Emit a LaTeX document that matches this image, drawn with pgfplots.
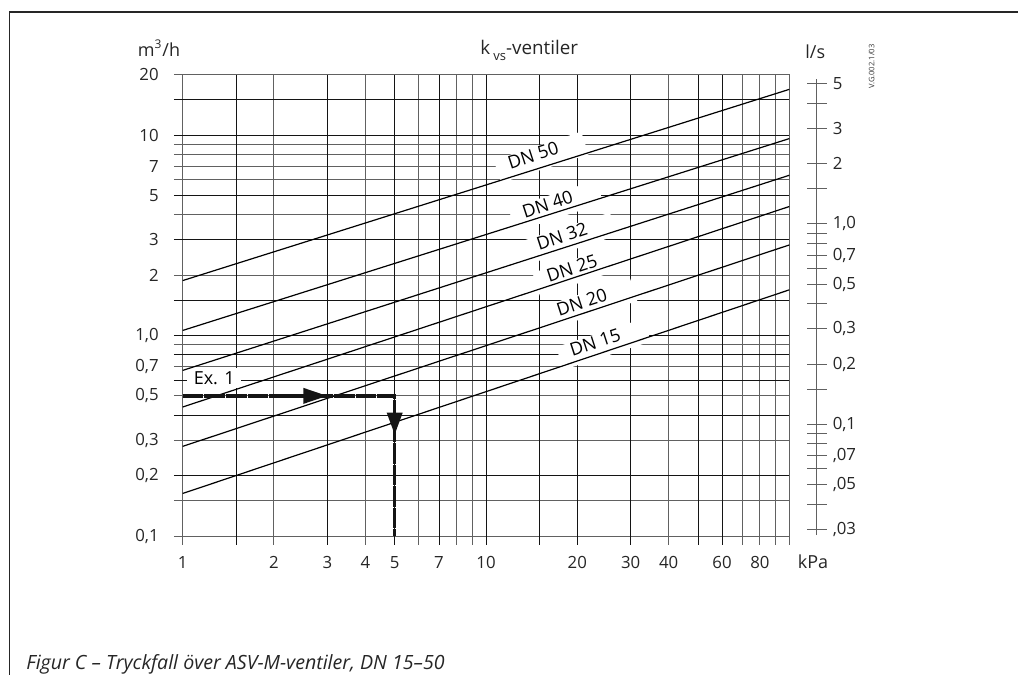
\documentclass[border=0pt]{standalone}
\usepackage{fontspec}
\setmainfont{Open Sans}
\usepackage{pgfplots}
\pgfplotsset{compat=1.18}
\usetikzlibrary{arrows.meta}

\definecolor{gridgray}{gray}{0.38}
\definecolor{griddark}{gray}{0.08}

\newcommand{\ticksize}{\fontsize{8.4pt}{10pt}\selectfont}
\newcommand{\labsize}{\fontsize{9pt}{11pt}\selectfont}

\tikzset{dnlabel/.style={rotate=18, inner sep=0pt, text height=6.4pt, text depth=0pt, font=\labsize}}

\begin{document}
\begin{tikzpicture}
\useasboundingbox (0,0) rectangle (509pt,337.5pt);
% frame of the figure
\draw[line width=0.75pt, black!85] (4.65pt,0) -- (4.65pt,331.5pt) -- (509pt,331.5pt);

\begin{axis}[
  at={(91.35pt,69.5pt)}, anchor=south west,
  scale only axis, width=303.3pt, height=230.65pt,
  xmode=log, ymode=log,
  xmin=1, xmax=100, ymin=0.1, ymax=20,
  axis line style={draw=gridgray, line width=0.5pt},
  xtick={1,2,4,6,8,9,40,70,80,90,100},
  xticklabels={1,2,4,{},{},{},40,{},80,{},{}},
  extra x ticks={1.5,3,5,7,10,15,20,30,50,60},
  extra x tick labels={{},3,5,7,10,{},20,30,{},60},
  ytick={0.1,0.15,0.3,0.5,0.7,0.9,2,4,6,7,8,9,20},
  yticklabels={{0,1},{},{0,3},{0,5},{0,7},{},2,{},{},7,{},{},20},
  extra y ticks={0.2,0.4,0.6,0.8,1,1.5,3,5,10,15},
  extra y tick labels={{0,2},{},{},{},{1,0},{},3,5,10,{}},
  xmajorgrids, ymajorgrids,
  major grid style={gridgray, line width=0.5pt},
  extra tick style={grid=major, major grid style={griddark, line width=0.5pt}, major tick style={griddark, line width=0.5pt}},
  tick align=outside, major tick length=4.5pt,
  xtick pos=bottom, ytick pos=left,
  major tick style={gridgray, line width=0.5pt},
  minor tick num=0,
  tick label style={font=\ticksize, text=black!85},
  xticklabel style={yshift=-2pt},
  yticklabel style={xshift=-4pt},
]
% white masks that break the grid behind the labels
\node[fill=white, rotate=18, minimum width=46pt, minimum height=12pt, inner sep=0pt] at (axis cs:15.2,7.75) {};
\node[fill=white, rotate=18, minimum width=46pt, minimum height=12pt, inner sep=0pt] at (axis cs:17.0,4.43) {};
\node[fill=white, rotate=18, minimum width=46pt, minimum height=12pt, inner sep=0pt] at (axis cs:18.9,3.06) {};
\node[fill=white, rotate=18, minimum width=46pt, minimum height=12pt, inner sep=0pt] at (axis cs:20.4,2.12) {};
\node[fill=white, rotate=18, minimum width=46pt, minimum height=12pt, inner sep=0pt] at (axis cs:22.0,1.44) {};
\node[fill=white, rotate=18, minimum width=46pt, minimum height=12pt, inner sep=0pt] at (axis cs:24.4,0.905) {};
\node[fill=white, minimum width=27pt, minimum height=10pt, inner sep=0pt] at (axis cs:1.27,0.614) {};

% labels
\node[dnlabel] at (axis cs:14.3,7.94) {DN 50};
\node[dnlabel] at (axis cs:15.95,4.53) {DN 40};
\node[dnlabel] at (axis cs:17.8,3.13) {DN 32};
\node[dnlabel] at (axis cs:19.2,2.17) {DN 25};
\node[dnlabel] at (axis cs:20.7,1.47) {DN 20};
\node[dnlabel] at (axis cs:22.9,0.923) {DN 15};
\node[inner sep=0pt, font=\labsize] at (axis cs:1.27,0.614) {Ex. 1};

% valve lines
\addplot[black, line width=0.6pt] coordinates {(1,1.88) (100,16.9)};
\addplot[black, line width=0.6pt] coordinates {(1,1.06) (100,9.6)};
\addplot[black, line width=0.6pt] coordinates {(1,0.67) (100,6.3)};
\addplot[black, line width=0.6pt] coordinates {(1,0.44) (100,4.4)};
\addplot[black, line width=0.6pt] coordinates {(1,0.28) (100,2.83)};
\addplot[black, line width=0.6pt] coordinates {(1,0.163) (100,1.69)};

% example 1
\addplot[black!92, line width=1.7pt, dash pattern=on 10.3pt off 0.5pt] coordinates {(1,0.5) (5,0.5) (5,0.1)};
\addplot[black!92, line width=1.7pt, -{Triangle[length=12pt, width=7.5pt]}] coordinates {(2.2,0.5) (3,0.5)};
\addplot[black!92, line width=1.7pt, -{Triangle[length=11pt, width=7.5pt]}] coordinates {(5,0.45) (5,0.32)};
\end{axis}

% right scale, l/s
\begin{axis}[
  at={(408.35pt,70pt)}, anchor=south east,
  scale only axis, width=20pt, height=228pt,
  ymode=log, ymin=0.02811, ymax=5.283,
  xmin=0, xmax=1,
  axis x line=none,
  axis y line*=right,
  y axis line style={draw=gridgray, line width=0.5pt, -},
  xtick=\empty,
  ytick={0.03,0.04,0.05,0.06,0.07,0.08,0.09,0.1,0.15,0.2,0.3,0.4,0.5,0.6,0.7,0.8,0.9,1,1.5,2,3,4,5},
  yticklabels={{,03},{},{,05},{},{,07},{},{},{0,1},{},{0,2},{0,3},{},{0,5},{},{0,7},{},{},{1,0},{},2,3,{},5},
  tick align=center, major tick length=10pt,
  major tick style={gridgray, line width=0.5pt},
  minor tick num=0,
  tick label style={font=\ticksize, text=black!85},
  yticklabel style={anchor=west, xshift=-0.5pt},
]
\addplot[draw=none] coordinates {(0,0.1) (1,1)};
\end{axis}

% texts around the chart
\node[anchor=base west, font=\fontsize{9pt}{11pt}\selectfont, text=black!85, inner sep=0pt] at (68.7pt,309.2pt) {m\textsuperscript{3}/h};
\node[anchor=base west, font=\fontsize{9.4pt}{12pt}\selectfont, text=black!85, inner sep=0pt] at (240pt,310pt) {k\,\raisebox{-0.5ex}{\fontsize{6.5pt}{8pt}\selectfont vs}-ventiler};
\node[anchor=base west, font=\fontsize{9pt}{11pt}\selectfont, text=black!85, inner sep=0pt] at (402.5pt,308.3pt) {l/s};
\node[anchor=base west, font=\fontsize{9pt}{11pt}\selectfont, text=black!85, inner sep=0pt] at (398.7pt,53.3pt) {kPa};
\node[rotate=90, font=\fontsize{3.8pt}{5pt}\selectfont, text=black!80, inner sep=0pt] at (435.8pt,304.2pt) {V.G.002.1/03};
\node[anchor=base west, font=\fontsize{9.8pt}{12pt}\selectfont\itshape, text=black!85, inner sep=0pt] at (13pt,2.5pt) {Figur C – Tryckfall över ASV-M-ventiler, DN 15–50};
\end{tikzpicture}
\end{document}
